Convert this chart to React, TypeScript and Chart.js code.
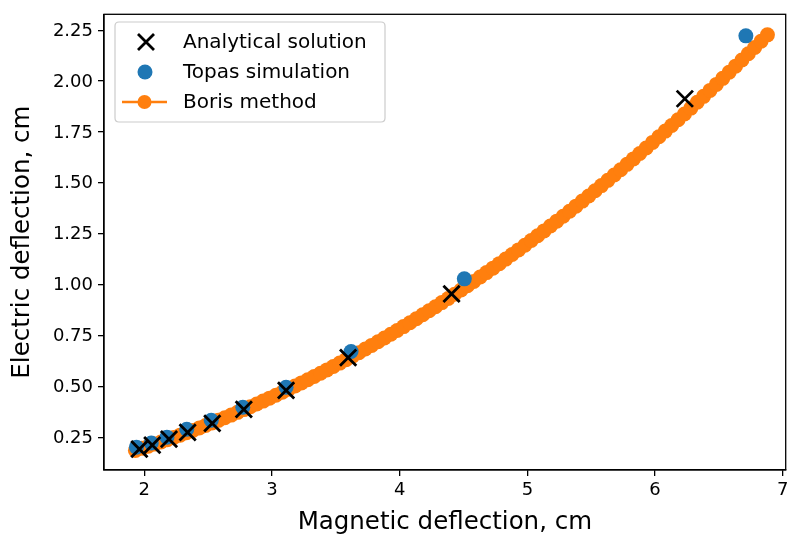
import React, { useEffect, useRef } from "react";
import { Chart, registerables } from "chart.js";
Chart.register(...registerables);

const analyticalX = [1.961, 2.062, 2.193, 2.339, 2.532, 2.779, 3.11, 3.596, 4.406, 6.233];
const analyticalY = [0.191, 0.211, 0.24, 0.274, 0.318, 0.387, 0.48, 0.641, 0.954, 1.913];

const topasX = [1.938, 2.054, 2.177, 2.332, 2.524, 2.771, 3.11, 3.619, 4.506, 6.711];
const topasY = [0.201, 0.221, 0.25, 0.289, 0.333, 0.397, 0.495, 0.671, 1.028, 2.222];

const borisX = [
  1.93, 1.98, 2.03, 2.08, 2.13, 2.18, 2.23, 2.28, 2.33, 2.38,
  2.43, 2.48, 2.53, 2.58, 2.63, 2.68, 2.73, 2.78, 2.83, 2.88,
  2.93, 2.98, 3.03, 3.08, 3.13, 3.18, 3.23, 3.28, 3.33, 3.38,
  3.43, 3.48, 3.53, 3.58, 3.63, 3.68, 3.73, 3.78, 3.83, 3.88,
  3.93, 3.98, 4.03, 4.08, 4.13, 4.18, 4.23, 4.28, 4.33, 4.38,
  4.43, 4.48, 4.53, 4.58, 4.63, 4.68, 4.73, 4.78, 4.83, 4.88,
  4.93, 4.98, 5.03, 5.08, 5.13, 5.18, 5.23, 5.28, 5.33, 5.38,
  5.43, 5.48, 5.53, 5.58, 5.63, 5.68, 5.73, 5.78, 5.83, 5.88,
  5.93, 5.98, 6.03, 6.08, 6.13, 6.18, 6.23, 6.28, 6.33, 6.38,
  6.43, 6.48, 6.53, 6.58, 6.63, 6.68, 6.73, 6.78, 6.83, 6.88,
];
const borisY = [
  0.185, 0.195, 0.2053, 0.2158, 0.2265, 0.2374, 0.2486, 0.2599, 0.2715, 0.2833,
  0.2953, 0.3075, 0.32, 0.3326, 0.3455, 0.3585, 0.3718, 0.3854, 0.3991, 0.413,
  0.4272, 0.4416, 0.4561, 0.471, 0.486, 0.5012, 0.5167, 0.5323, 0.5482, 0.5643,
  0.5806, 0.5972, 0.6139, 0.6309, 0.648, 0.6654, 0.683, 0.7009, 0.7189, 0.7372,
  0.7556, 0.7743, 0.7932, 0.8123, 0.8317, 0.8512, 0.871, 0.891, 0.9112, 0.9316,
  0.9522, 0.973, 0.9941, 1.0154, 1.0369, 1.0586, 1.0805, 1.1026, 1.125, 1.1476,
  1.1703, 1.1933, 1.2165, 1.24, 1.2636, 1.2875, 1.3116, 1.3359, 1.3604, 1.3851,
  1.41, 1.4352, 1.4606, 1.4861, 1.5119, 1.538, 1.5642, 1.5906, 1.6173, 1.6442,
  1.6713, 1.6986, 1.7261, 1.7539, 1.7818, 1.81, 1.8384, 1.867, 1.8958, 1.9249,
  1.9541, 1.9836, 2.0133, 2.0432, 2.0733, 2.1036, 2.1341, 2.1649, 2.1959, 2.2271,
];

const xTicks = [2, 3, 4, 5, 6, 7];
const yTicks = [0.25, 0.5, 0.75, 1.0, 1.25, 1.5, 1.75, 2.0, 2.25];
const xTickLabels = ["2", "3", "4", "5", "6", "7"];
const yTickLabels = ["0.25", "0.50", "0.75", "1.00", "1.25", "1.50", "1.75", "2.00", "2.25"];

const legendLabels = ["Analytical solution", "Topas simulation", "Boris method"];

const BLUE = "#1f77b4";
const ORANGE = "#ff7f0e";
const FONT = "'DejaVu Sans', sans-serif";

function drawCross(ctx: CanvasRenderingContext2D, x: number, y: number, h: number) {
  ctx.beginPath();
  ctx.moveTo(x - h, y - h);
  ctx.lineTo(x + h, y + h);
  ctx.moveTo(x - h, y + h);
  ctx.lineTo(x + h, y - h);
  ctx.stroke();
}

const framePlugin = {
  id: "frameLegend",
  afterDraw(chart: any) {
    const ctx: CanvasRenderingContext2D = chart.ctx;
    const a = chart.chartArea;
    const xs = chart.scales.x;
    const ys = chart.scales.y;
    ctx.save();
    ctx.strokeStyle = "#000";
    ctx.lineWidth = 1.3;
    ctx.strokeRect(a.left, a.top, a.right - a.left, a.bottom - a.top);

    // tick labels
    ctx.fillStyle = "#000";
    ctx.font = `18px ${FONT}`;
    ctx.textAlign = "center";
    ctx.textBaseline = "top";
    xTicks.forEach((v, i) => ctx.fillText(xTickLabels[i], xs.getPixelForValue(v), a.bottom + 11));
    ctx.textAlign = "right";
    ctx.textBaseline = "middle";
    yTicks.forEach((v, i) => ctx.fillText(yTickLabels[i], a.left - 11, ys.getPixelForValue(v) + 1));

    // legend
    const bx = 115, by = 22, bw = 270, bh = 100, r = 4;
    ctx.beginPath();
    ctx.moveTo(bx + r, by);
    ctx.lineTo(bx + bw - r, by);
    ctx.quadraticCurveTo(bx + bw, by, bx + bw, by + r);
    ctx.lineTo(bx + bw, by + bh - r);
    ctx.quadraticCurveTo(bx + bw, by + bh, bx + bw - r, by + bh);
    ctx.lineTo(bx + r, by + bh);
    ctx.quadraticCurveTo(bx, by + bh, bx, by + bh - r);
    ctx.lineTo(bx, by + r);
    ctx.quadraticCurveTo(bx, by, bx + r, by);
    ctx.closePath();
    ctx.fillStyle = "rgba(255,255,255,0.8)";
    ctx.fill();
    ctx.strokeStyle = "#cccccc";
    ctx.lineWidth = 1.2;
    ctx.stroke();

    const rows = [42, 72, 102];
    ctx.strokeStyle = "#000";
    ctx.lineWidth = 2.8;
    drawCross(ctx, 146, rows[0], 8);
    ctx.fillStyle = BLUE;
    ctx.beginPath();
    ctx.arc(145, rows[1], 7.5, 0, Math.PI * 2);
    ctx.fill();
    ctx.strokeStyle = ORANGE;
    ctx.lineWidth = 2.6;
    ctx.beginPath();
    ctx.moveTo(122, rows[2]);
    ctx.lineTo(167, rows[2]);
    ctx.stroke();
    ctx.fillStyle = ORANGE;
    ctx.beginPath();
    ctx.arc(144.5, rows[2], 7, 0, Math.PI * 2);
    ctx.fill();

    ctx.fillStyle = "#000";
    ctx.font = `20px ${FONT}`;
    ctx.textBaseline = "middle";
    ctx.textAlign = "left";
    legendLabels.forEach((t, i) => ctx.fillText(t, 183, rows[i] + 1));
    ctx.restore();
  },
};

export default function App() {
  const ref = useRef<HTMLCanvasElement>(null);
  useEffect(() => {
    if (!ref.current) return;
    const chart = new Chart(ref.current, {
      type: "scatter",
      data: {
        datasets: [
          {
            label: legendLabels[0],
            data: analyticalX.map((x, i) => ({ x, y: analyticalY[i] })),
            pointStyle: "crossRot",
            pointRadius: 11.5,
            borderColor: "#000",
            backgroundColor: "#000",
            pointBorderWidth: 2.8,
            showLine: false,
          } as any,
          {
            label: legendLabels[1],
            data: topasX.map((x, i) => ({ x, y: topasY[i] })),
            pointStyle: "circle",
            pointRadius: 7.5,
            pointBorderWidth: 0,
            backgroundColor: BLUE,
            borderColor: BLUE,
            showLine: false,
          },
          {
            label: legendLabels[2],
            data: borisX.map((x, i) => ({ x, y: borisY[i] })),
            pointStyle: "circle",
            pointRadius: 7.5,
            pointBorderWidth: 0,
            backgroundColor: ORANGE,
            borderColor: ORANGE,
            borderWidth: 2.6,
            showLine: true,
          },
        ],
      },
      options: {
        animation: false,
        responsive: false,
        maintainAspectRatio: false,
        layout: { padding: { top: 12, right: 1, left: 0, bottom: 0 } },
        plugins: { legend: { display: false }, tooltip: { enabled: false } },
        scales: {
          x: {
            type: "linear",
            min: 1.684,
            max: 7.023,
            afterBuildTicks: (s: any) => {
              s.ticks = xTicks.map((v) => ({ value: v }));
            },
            afterFit: (s: any) => {
              s.height = 68;
            },
            ticks: { display: false },
            grid: { display: true, drawOnChartArea: false, drawTicks: true, tickLength: 6, color: "#000", lineWidth: 1.3 },
            border: { display: true, color: "#000", width: 1.3 },
            title: {
              display: true,
              text: "Magnetic deflection, cm",
              color: "#000",
              font: { family: FONT, size: 24.5 },
              padding: { top: 2, bottom: 1 },
            },
          },
          y: {
            type: "linear",
            min: 0.0886,
            max: 2.328,
            afterBuildTicks: (s: any) => {
              s.ticks = yTicks.map((v) => ({ value: v }));
            },
            afterFit: (s: any) => {
              s.width = 104;
            },
            ticks: { display: false },
            grid: { display: true, drawOnChartArea: false, drawTicks: true, tickLength: 6, color: "#000", lineWidth: 1.3 },
            border: { display: true, color: "#000", width: 1.3 },
            title: {
              display: true,
              text: "Electric deflection, cm",
              color: "#000",
              font: { family: FONT, size: 24.5 },
              padding: { top: 8, bottom: 2 },
            },
          },
        },
      },
      plugins: [framePlugin],
    });
    return () => chart.destroy();
  }, []);
  return (
    <div style={{ position: "fixed", left: 0, top: 0, width: 800, height: 538, background: "#fff" }}>
      <canvas ref={ref} width={800} height={538} style={{ width: 800, height: 538, display: "block" }} />
    </div>
  );
}
